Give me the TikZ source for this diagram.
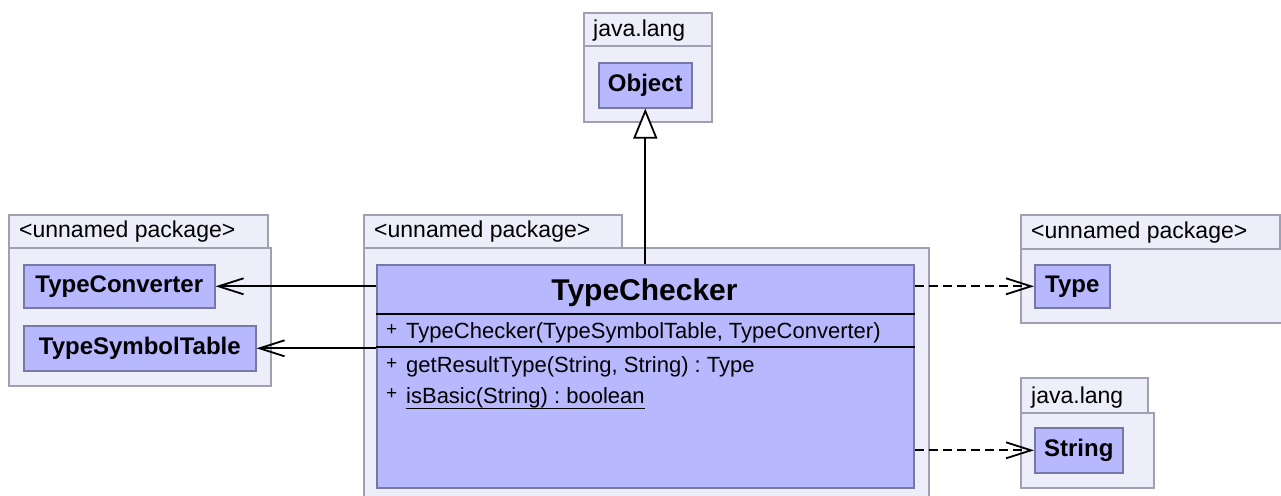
\documentclass[tikz,border=0pt]{standalone}
\usepackage{fontspec}
\setmainfont{Liberation Sans}
\usetikzlibrary{arrows.meta,positioning}
\definecolor{pkgfill}{RGB}{238,238,250}
\definecolor{pkgline}{RGB}{160,160,176}
\definecolor{clsfill}{RGB}{184,184,255}
\definecolor{clsline}{RGB}{120,120,165}
\begin{document}
\frenchspacing
\begin{tikzpicture}
[x=1pt,y=-1pt,
  pkgdecorate/.style={shape=rectangle,draw=pkgline,fill=pkgfill,line width=1.6pt,inner sep=0pt,anchor=north west},%
  tabdecorate/.style={anchor=base west,inner sep=0pt,font=\fontsize{23}{27}\selectfont},%
  classdecorate/.style={shape=rectangle,draw=clsline,fill=clsfill,line width=1.6pt,inner sep=0pt,anchor=north west,font=\bfseries\fontsize{24}{28}\selectfont},%
  memberdecorate/.style={anchor=base west,inner sep=0pt,font=\fontsize{22}{26}\selectfont},%
  plusdecorate/.style={anchor=base west,inner sep=0pt,font=\fontsize{19}{22}\selectfont},%
  assocdecorate/.style={-{Straight Barb[length=25pt,width=16pt]},line width=1.8pt},%
  depdecorate/.style={assocdecorate,dash pattern=on 9pt off 5pt},%
  gendecorate/.style={-{Triangle[open,length=30pt,width=24pt,fill=white]},line width=1.8pt}]
\useasboundingbox (0,0) rectangle (1281,495);
\clip (0,0) rectangle (1281,495);
% packages
\node (objbody) at (583,45) [pkgdecorate,minimum width=128pt,minimum height=76pt] {};
\node (objtab) at (583,12) [pkgdecorate,minimum width=128pt,minimum height=33pt] {};
\node (objlabel) at (593,37) [tabdecorate] {java.lang};
\node (leftbody) at (8,247) [pkgdecorate,minimum width=262pt,minimum height=138pt] {};
\node (lefttab) at (8,214) [pkgdecorate,minimum width=259pt,minimum height=33pt] {};
\node (leftlabel) at (19,237) [tabdecorate] {<unnamed package>};
\node (midbody) at (363,247) [pkgdecorate,minimum width=565pt,minimum height=260pt] {};
\node (midtab) at (363,214) [pkgdecorate,minimum width=258pt,minimum height=33pt] {};
\node (midlabel) at (374,237) [tabdecorate] {<unnamed package>};
\node (typebody) at (1020,248) [pkgdecorate,minimum width=275pt,minimum height=74pt] {};
\node (typetab) at (1020,214) [pkgdecorate,minimum width=259pt,minimum height=34pt] {};
\node (typelabel) at (1031,238) [tabdecorate] {<unnamed package>};
\node (strbody) at (1020,412) [pkgdecorate,minimum width=133pt,minimum height=75pt] {};
\node (strtab) at (1020,377) [pkgdecorate,minimum width=127pt,minimum height=35pt] {};
\node (strlabel) at (1031,403) [tabdecorate] {java.lang};
% classes
\node (obj) at (598,62) [classdecorate,minimum width=93pt,minimum height=45pt] {Object};
\node (tconv) at (23,264) [classdecorate,minimum width=191pt,minimum height=43pt] {TypeConverter};
\node (tsym) at (23,325) [classdecorate,minimum width=232pt,minimum height=45pt] {TypeSymbolTable};
\node (type) at (1034,264) [classdecorate,minimum width=75pt,minimum height=43pt] {Type};
\node (string) at (1034,427) [classdecorate,minimum width=88pt,minimum height=45pt] {String};
\node (tc) at (376,264) [classdecorate,minimum width=537pt,minimum height=223pt] {};
\node (tctitle) at (644.5,300) [anchor=base,inner sep=0pt,font=\bfseries\fontsize{30}{34}\selectfont] {TypeChecker};
\draw[line width=2pt] (tc.west |- 0,314) -- (tc.east |- 0,314);
\draw[line width=2pt] (tc.west |- 0,347) -- (tc.east |- 0,347);
\node (tcplus1) at (386,335) [plusdecorate] {+};
\node (tcctor) at (406,338) [memberdecorate] {TypeChecker(TypeSymbolTable, TypeConverter)};
\node (tcplus2) at (386,369) [plusdecorate] {+};
\node (tcget) at (406,372) [memberdecorate] {getResultType(String, String) : Type};
\node (tcplus3) at (386,399) [plusdecorate] {+};
\node (tcbasic) at (406,403) [memberdecorate] {isBasic(String) : boolean};
\draw[line width=1.6pt] ([yshift=-5.5pt]tcbasic.base west) -- ([yshift=-5.5pt]tcbasic.base east);
% edges
\path
(tc.north) edge[gendecorate] (obj.south)
(tc.west |- tconv.east) edge[assocdecorate] (tconv.east)
(tc.west |- tsym.east) edge[assocdecorate] (tsym.east)
(tc.east |- type.west) edge[depdecorate] (type.west)
(tc.east |- string.west) edge[depdecorate] (string.west);
\end{tikzpicture}
\end{document}
